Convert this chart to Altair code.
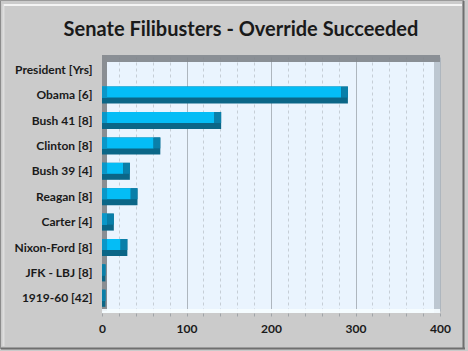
import altair as alt
import pandas as pd

# ---- data ----
presidents = ["President [Yrs]", "Obama [6]", "Bush 41 [8]", "Clinton [8]", "Bush 39 [4]",
              "Reagan [8]", "Carter [4]", "Nixon-Ford [8]", "JFK - LBJ [8]", "1919-60 [42]"]
overrides = [None, 291, 141, 69, 33, 42, 14, 30, 4, 4]
x_tick_values = list(range(0, 401, 20))
title_text = "Senate Filibusters - Override Succeeded"

df = pd.DataFrame({"president": presidents, "value": overrides})

FONT = "Lato"
W, H = 338, 258
L, T = 102, 55  # plot origin in page pixels


def px(x):
    return x - L


def py(y):
    return y - T


ysc = alt.Scale(domain=presidents, range=[2, 256], paddingInner=0, paddingOuter=0)
xsc = alt.Scale(domain=[0, 400], nice=False, zero=True)

one = pd.DataFrame({"k": [0]})


def rect(x1, x2, y1, y2, color, opacity=1.0):
    return alt.Chart(one).mark_rect(color=color, opacity=opacity).encode(
        x=alt.value(px(x1)), x2=alt.value(px(x2)), y=alt.value(py(y1)), y2=alt.value(py(y2)))


def hrule(x1, x2, y, color, w=1):
    return alt.Chart(one).mark_rule(color=color, strokeWidth=w).encode(
        x=alt.value(px(x1)), x2=alt.value(px(x2)), y=alt.value(py(y)))


def vrule(x, y1, y2, color, w=1):
    return alt.Chart(one).mark_rule(color=color, strokeWidth=w).encode(
        x=alt.value(px(x)), y=alt.value(py(y1)), y2=alt.value(py(y2)))


base = alt.Chart(df).transform_filter("datum.value != null").transform_calculate(
    lite_end="max(datum.value - 8, 0)",
    left_end="min(datum.value, 6)",
)

x_axis = alt.Axis(
    values=x_tick_values,
    labelExpr="datum.value % 100 === 0 ? datum.label : ''",
    grid=True,
    gridColor={"condition": {"test": "datum.value % 100 === 0", "value": "#aeb6be"}, "value": "#c6ced6"},
    gridDash={"condition": {"test": "datum.value % 100 === 0", "value": []}, "value": [3, 3]},
    domain=False, tickSize=3, tickColor="#a0a4a8",
    labelFont=FONT, labelFontSize=12, labelFontWeight="bold", labelColor="#1a1a1a",
    labelPadding=7, labelFlush=False, labelOverlap=False, title=None,
)
y_axis = alt.Axis(
    domain=False, ticks=False, grid=False,
    labelFont=FONT, labelFontSize=12, labelFontWeight="bold", labelColor="#1a1a1a",
    labelPadding=10, title=None,
)

Y = alt.Y("president:N", scale=ysc, axis=y_axis, sort=presidents)

dark = base.mark_bar(color="#0b6687", size=17).encode(
    x=alt.X("value:Q", scale=xsc, axis=x_axis),
    y=Y,
)
light = base.mark_bar(color="#04bdf6", size=11, yOffset=-3).encode(
    x=alt.X("lite_end:Q", scale=xsc, axis=x_axis),
    x2=alt.value(0),
    y=Y,
)
bevel_r = base.mark_bar(color="#0a7fa9", size=11, yOffset=-3).encode(
    x=alt.X("lite_end:Q", scale=xsc, axis=x_axis),
    x2="value:Q",
    y=Y,
)
bevel_l = base.mark_bar(color="#0a97c8", size=11, yOffset=-3).encode(
    x=alt.X("left_end:Q", scale=xsc, axis=x_axis),
    x2=alt.value(0),
    y=Y,
)

title = alt.Chart(one).mark_text(
    text=title_text, font=FONT, fontSize=20, fontWeight="bold", color="#1a1a1a",
    align="center", baseline="alphabetic").encode(x=alt.value(px(241)), y=alt.value(py(36)))

decor = [
    # outer frame
    vrule(0.5, 0, 349, "#8c8c8c"),
    hrule(0, 464, 0.5, "#9a9a9a"),
    vrule(3.5, 4, 346, "#dedede", 2),
    hrule(4, 462, 5, "#f4f4f4", 2),
    vrule(463.5, 1, 349, "#6f6f6f", 2),
    hrule(1, 465, 348.5, "#6f6f6f", 2),
    # 3D walls of the plot area
    rect(102, 440, 55, 62, "#7f8489", 0.9),
    rect(102, 107, 55, 311, "#8a8e93"),
    rect(434, 440, 62, 313, "#bdc7d1"),
    rect(102, 440, 309, 313, "#f5fcff", 0.92),
]

chart = alt.layer(*decor, dark, light, bevel_l, bevel_r, title).properties(
    width=W, height=H,
    padding={"left": L, "top": T, "right": 468 - L - W, "bottom": 351 - T - H},
    autosize=alt.AutoSizeParams(type="none"),
    background="#cbcbcb",
).configure_view(stroke=None, fill="#eaf4fe")

chart.save("out.html", embed_options={"renderer": "svg", "actions": False})
